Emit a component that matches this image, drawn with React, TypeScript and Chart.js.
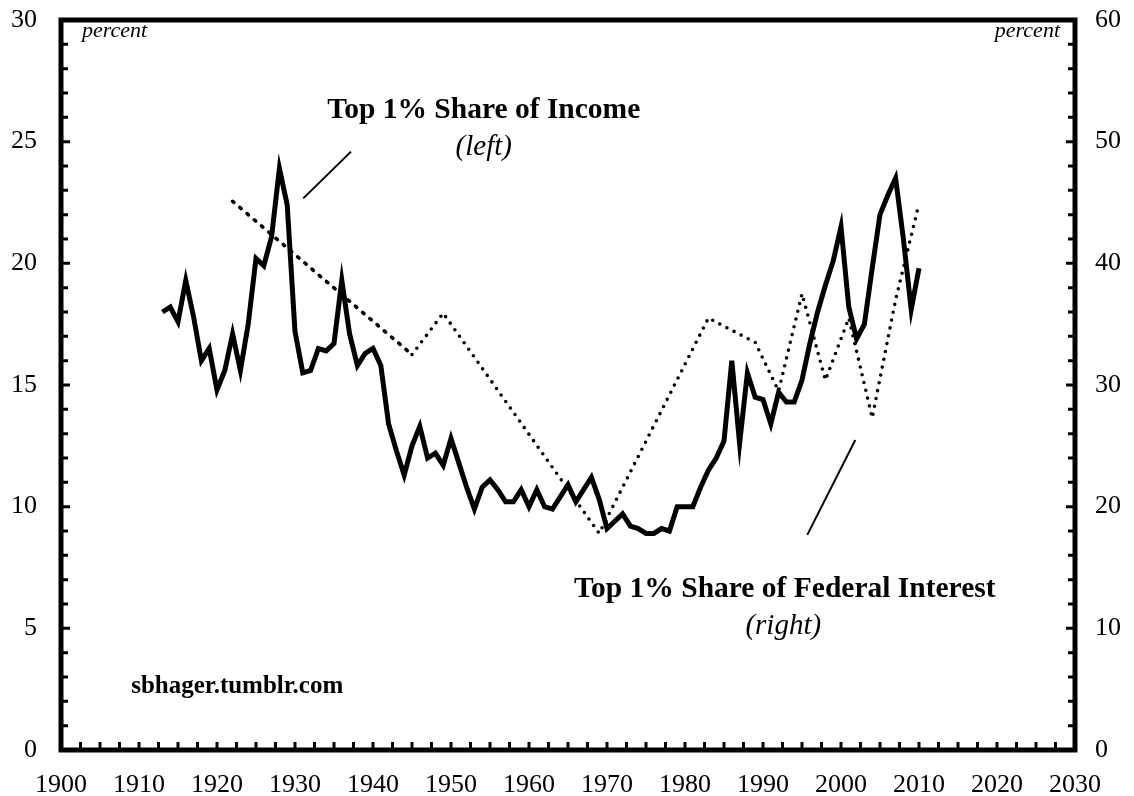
import React, { useEffect, useRef } from "react";
import { Chart, registerables } from "chart.js";

Chart.register(...registerables);

const FONT = "'Liberation Serif', 'Times New Roman', serif";

// Top 1% share of income (left axis, percent), annual 1913-2010
const incomeYears = Array.from({ length: 98 }, (_, i) => 1913 + i);
const incomeShare = [
  // 1913-1919
  18.0, 18.2, 17.6, 19.3, 17.8, 16.0, 16.5,
  // 1920s
  14.8, 15.6, 17.1, 15.6, 17.5, 20.2, 19.9, 21.1, 23.9, 22.4,
  // 1930s
  17.2, 15.5, 15.6, 16.5, 16.4, 16.7, 19.3, 17.1, 15.8, 16.3,
  // 1940s
  16.5, 15.8, 13.4, 12.3, 11.3, 12.5, 13.3, 12.0, 12.2, 11.7,
  // 1950s
  12.8, 11.8, 10.8, 9.9, 10.8, 11.1, 10.7, 10.2, 10.2, 10.7,
  // 1960s
  10.0, 10.7, 10.0, 9.9, 10.4, 10.9, 10.2, 10.7, 11.2, 10.3,
  // 1970s
  9.1, 9.4, 9.7, 9.2, 9.1, 8.9, 8.9, 9.1, 9.0, 10.0,
  // 1980s
  10.0, 10.0, 10.8, 11.5, 12.0, 12.7, 16.0, 12.6, 15.5, 14.5,
  // 1990s
  14.4, 13.4, 14.7, 14.3, 14.3, 15.2, 16.7, 18.0, 19.1, 20.1,
  // 2000s
  21.5, 18.2, 16.9, 17.5, 19.8, 22.0, 22.8, 23.5, 21.0, 18.1,
  // 2010
  19.8,
];

// Top 1% share of federal interest (right axis, percent)
const interestYears = [1922, 1945, 1949, 1969, 1983, 1989, 1992, 1995, 1998, 2001, 2004, 2007, 2010];
const interestShare = [45.1, 32.5, 35.9, 17.8, 35.5, 33.5, 29.5, 37.5, 30.4, 35.5, 27.3, 37.0, 44.9];

// Axis ranges
const xRange = [1900, 2030];
const leftRange = [0, 30];
const rightRange = [0, 60];

// Text annotations (placed in data coordinates of x / left y)
const labels = [
  { text: "Top 1% Share of Income", x: 1954.2, y: 25.97, font: `bold 29.5px ${FONT}`, align: "center" },
  { text: "(left)", x: 1954.2, y: 24.47, font: `italic 29px ${FONT}`, align: "center" },
  { text: "Top 1% Share of Federal Interest", x: 1992.8, y: 6.29, font: `bold 29.5px ${FONT}`, align: "center" },
  { text: "(right)", x: 1992.6, y: 4.75, font: `italic 29px ${FONT}`, align: "center" },
  { text: "sbhager.tumblr.com", x: 1909.0, y: 2.34, font: `bold 25px ${FONT}`, align: "left" },
];
const pointers = [
  { x0: 1931.06, y0: 22.67, x1: 1937.18, y1: 24.59 },
  { x0: 1995.68, y0: 8.84, x1: 2001.83, y1: 12.74 },
];

const framePlugin = {
  id: "frameAndText",
  afterDraw(chart: any) {
    const { ctx, chartArea: a, scales } = chart;
    const x = scales.x;
    const y = scales.y;
    const y1 = scales.y1;
    ctx.save();
    ctx.strokeStyle = "#000";
    ctx.fillStyle = "#000";

    // inward tick marks
    ctx.lineWidth = 3;
    ctx.lineCap = "butt";
    ctx.beginPath();
    for (let v = xRange[0]; v <= xRange[1]; v += 2.5) {
      const px = x.getPixelForValue(v);
      ctx.moveTo(px, a.bottom);
      ctx.lineTo(px, a.bottom - 8);
    }
    for (let v = leftRange[0]; v <= leftRange[1]; v += 1) {
      const py = y.getPixelForValue(v);
      const len = v % 5 === 0 ? 9 : 7;
      ctx.moveTo(a.left, py);
      ctx.lineTo(a.left + len, py);
    }
    for (let v = rightRange[0]; v <= rightRange[1]; v += 2) {
      const py = y1.getPixelForValue(v);
      const len = v % 10 === 0 ? 9 : 7;
      ctx.moveTo(a.right, py);
      ctx.lineTo(a.right - len, py);
    }
    ctx.stroke();

    // frame
    ctx.lineWidth = 5;
    ctx.lineJoin = "miter";
    ctx.strokeRect(a.left, a.top, a.right - a.left, a.bottom - a.top);

    // pointer lines
    ctx.lineWidth = 2;
    ctx.beginPath();
    for (const p of pointers) {
      ctx.moveTo(x.getPixelForValue(p.x0), y.getPixelForValue(p.y0));
      ctx.lineTo(x.getPixelForValue(p.x1), y.getPixelForValue(p.y1));
    }
    ctx.stroke();

    // labels
    ctx.textBaseline = "alphabetic";
    for (const l of labels) {
      ctx.font = l.font;
      ctx.textAlign = l.align;
      ctx.fillText(l.text, x.getPixelForValue(l.x), y.getPixelForValue(l.y));
    }

    // "percent" unit labels
    ctx.font = `italic 22px ${FONT}`;
    ctx.textAlign = "left";
    ctx.fillText("percent", a.left + 21, a.top + 17);
    ctx.textAlign = "right";
    ctx.fillText("percent", a.right - 15, a.top + 17);

    ctx.restore();
  },
};

export default function App() {
  const ref = useRef<HTMLCanvasElement | null>(null);

  useEffect(() => {
    if (!ref.current) return;
    const chart = new Chart(ref.current, {
      type: "line",
      data: {
        datasets: [
          {
            label: "Top 1% Share of Income",
            data: incomeYears.map((yr, i) => ({ x: yr, y: incomeShare[i] })),
            yAxisID: "y",
            borderColor: "#000",
            borderWidth: 5,
            borderJoinStyle: "miter",
            pointRadius: 0,
            tension: 0,
          },
          {
            label: "Top 1% Share of Federal Interest",
            data: interestYears.map((yr, i) => ({ x: yr, y: interestShare[i] })),
            yAxisID: "y1",
            borderColor: "#000",
            borderWidth: 3.6,
            borderCapStyle: "round",
            borderDash: [0, 8],
            pointRadius: 0,
            tension: 0,
            segment: {
              borderDash: (c: any) => (c.p0DataIndex === 0 ? [1.8, 7.7] : [0, 8]),
            },
          },
        ],
      },
      options: {
        responsive: false,
        animation: false,
        devicePixelRatio: 1,
        layout: { padding: { top: 20, left: 0, right: 0, bottom: 0 } },
        plugins: { legend: { display: false }, tooltip: { enabled: false } },
        scales: {
          x: {
            type: "linear",
            position: "bottom",
            min: xRange[0],
            max: xRange[1],
            grid: { display: false, drawTicks: false },
            border: { display: false },
            ticks: {
              stepSize: 10,
              color: "#000",
              padding: 20,
              font: { family: FONT, size: 26 },
              callback: (v: any) => String(v),
            },
            afterFit: (s: any) => {
              s.height = 46;
              s.paddingLeft = 0;
              s.paddingRight = 0;
            },
          },
          y: {
            type: "linear",
            position: "left",
            min: leftRange[0],
            max: leftRange[1],
            grid: { display: false, drawTicks: false },
            border: { display: false },
            ticks: {
              stepSize: 5,
              color: "#000",
              padding: 24,
              font: { family: FONT, size: 26 },
            },
            afterFit: (s: any) => {
              s.width = 61;
              s.paddingTop = 0;
              s.paddingBottom = 0;
            },
          },
          y1: {
            type: "linear",
            position: "right",
            min: rightRange[0],
            max: rightRange[1],
            grid: { display: false, drawTicks: false },
            border: { display: false },
            ticks: {
              stepSize: 10,
              color: "#000",
              padding: 20,
              font: { family: FONT, size: 26 },
            },
            afterFit: (s: any) => {
              s.width = 59;
              s.paddingTop = 0;
              s.paddingBottom = 0;
            },
          },
        },
      },
      plugins: [framePlugin],
    });
    return () => chart.destroy();
  }, []);

  return (
    <div style={{ position: "fixed", left: 0, top: 0, width: 1134, height: 796, background: "#fff" }}>
      <canvas ref={ref} width={1134} height={796} style={{ display: "block" }} />
    </div>
  );
}
